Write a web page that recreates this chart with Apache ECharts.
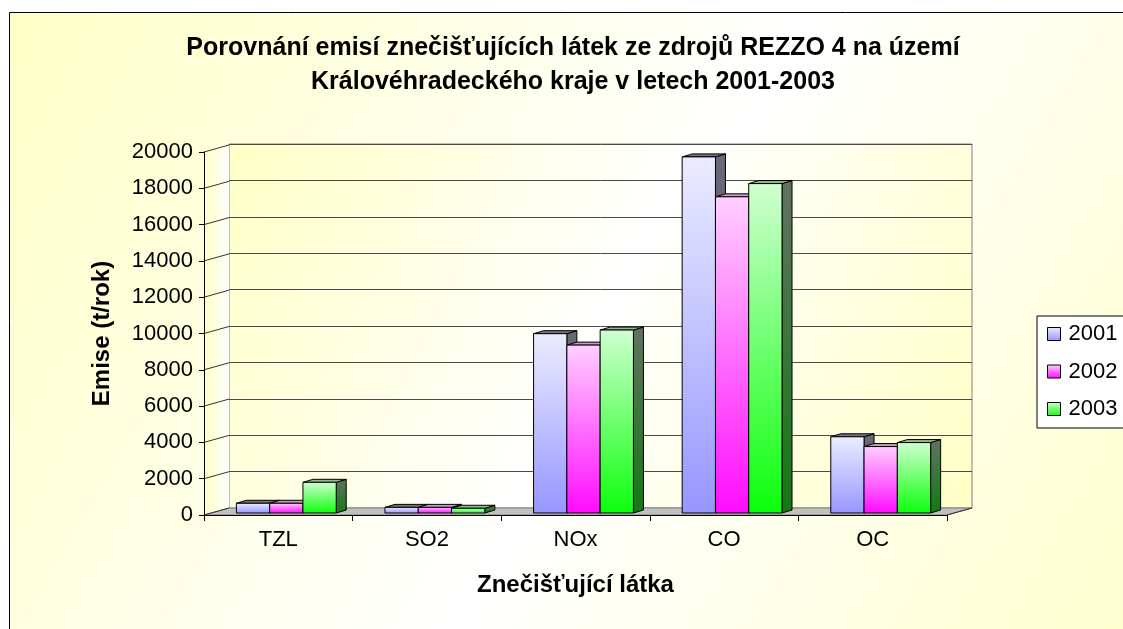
<!DOCTYPE html>
<html>
<head>
<meta charset="utf-8">
<title>Emise REZZO 4</title>
<script src="https://cdn.jsdelivr.net/npm/echarts@6/dist/echarts.min.js"></script>
<style>
  html, body { margin: 0; background: #fff; }
  #chart { width: 1123px; height: 629px; }
</style>
</head>
<body>
<div id="chart"></div>
<script>
// data
const categories = ['TZL', 'SO2', 'NOx', 'CO', 'OC']
const years = ['2001', '2002', '2003']
const emise2001 = [535, 310, 9880, 19620, 4200]
const emise2002 = [535, 310, 9250, 17420, 3660]
const emise2003 = [1690, 260, 10080, 18150, 3880]
const yTicks = [0, 2000, 4000, 6000, 8000, 10000, 12000, 14000, 16000, 18000, 20000]

const Y_MAX = 20000
const Y_STEP = 2000
const DEPTH = [25, -7]        // floor / wall depth (px)
const BAR_SHIFT = [8, -2]     // bars sit in the middle of the depth
const BAR_DEPTH = [10, -3]
const BAR_RATIO = 0.224       // one bar as part of a category band
const FONT = 'Liberation Sans'

const vGrad = (a, b) => ({
  type: 'linear', x: 0, y: 0, x2: 0, y2: 1,
  colorStops: [{ offset: 0, color: a }, { offset: 1, color: b }]
})
const diagGrad = () => ({
  type: 'linear', x: 0, y: 0, x2: 1, y2: 1,
  colorStops: [
    { offset: 0, color: '#ffffc6' },
    { offset: 0.5, color: '#ffffff' },
    { offset: 1, color: '#ffffc6' }
  ]
})

const barStyles = [
  { front: ['#ececff', '#9696ff'], top: '#74747e', side: ['#6a6a76', '#46466e'] },
  { front: ['#ffd0ff', '#ff0cff'], top: '#c898c8', side: ['#8a6a8a', '#8a0a8a'] },
  { front: ['#d0ffd0', '#0cff0c'], top: '#92b892', side: ['#627262', '#127a12'] }
]

// side wall, floor and the slanted tick lines
function renderFrame (params, api) {
  const cs = params.coordSys
  const x0 = cs.x
  const x1 = cs.x + cs.width
  const yb = api.coord([0, 0])[1]
  const yt = api.coord([0, Y_MAX])[1]
  const [dx, dy] = DEPTH
  const children = [
    {
      type: 'polygon',
      shape: { points: [[x0, yt], [x0 + dx, yt + dy], [x0 + dx, yb + dy], [x0, yb]] },
      style: {
        fill: {
          type: 'linear', x: 0, y: 0, x2: 1, y2: 0,
          colorStops: [{ offset: 0, color: '#ffffc4' }, { offset: 1, color: '#ffffff' }]
        }
      }
    },
    {
      type: 'polygon',
      shape: { points: [[x0, yb], [x0 + dx, yb + dy], [x1 + dx, yb + dy], [x1, yb]] },
      style: { fill: '#c0c0c0', stroke: '#808080', lineWidth: 1 }
    },
    {
      type: 'line',
      shape: { x1: x1, y1: yb, x2: x1 + dx, y2: yb + dy },
      style: { stroke: '#333', lineWidth: 1 }
    }
  ]
  yTicks.forEach(v => {
    const y = api.coord([0, v])[1]
    children.push({
      type: 'line',
      shape: { x1: x0, y1: y, x2: x0 + dx, y2: y + dy },
      style: { stroke: '#333', lineWidth: 1 }
    })
  })
  return { type: 'group', children }
}

// 3D looking column: front face, top, right side
function barRenderer (k) {
  const st = barStyles[k]
  return function (params, api) {
    const i = api.value(0)
    const v = api.value(1)
    const base = api.coord([i, 0])
    const top = api.coord([i, v])
    const w = api.size([1, 0])[0] * BAR_RATIO
    const x = base[0] - w * 1.5 + k * w + BAR_SHIFT[0]
    const y0 = base[1] + BAR_SHIFT[1]
    const y1 = top[1] + BAR_SHIFT[1]
    const [dx, dy] = BAR_DEPTH
    const line = { stroke: '#000', lineWidth: 1, lineJoin: 'round' }
    return {
      type: 'group',
      children: [
        {
          type: 'polygon',
          shape: { points: [[x + w, y1], [x + w + dx, y1 + dy], [x + w + dx, y0 + dy], [x + w, y0]] },
          style: Object.assign({ fill: vGrad(st.side[0], st.side[1]) }, line)
        },
        {
          type: 'polygon',
          shape: { points: [[x, y1], [x + dx, y1 + dy], [x + w + dx, y1 + dy], [x + w, y1]] },
          style: Object.assign({ fill: st.top }, line)
        },
        {
          type: 'rect',
          shape: { x: x, y: y1, width: w, height: y0 - y1 },
          style: Object.assign({ fill: vGrad(st.front[0], st.front[1]) }, line)
        }
      ]
    }
  }
}

const seriesData = [emise2001, emise2002, emise2003]

const chart = echarts.init(document.getElementById('chart'), null, { renderer: 'canvas' })

chart.setOption({
  animation: false,
  backgroundColor: '#fff',
  textStyle: { fontFamily: FONT },
  graphic: [{
    type: 'rect',
    z: -10,
    silent: true,
    shape: { x: 9.5, y: 12.5, width: 1200, height: 700 },
    style: { fill: diagGrad(), stroke: '#000', lineWidth: 1 }
  }],
  title: {
    text: 'Porovnání emisí znečišťujících látek ze zdrojů REZZO 4 na území\nKrálovéhradeckého kraje v letech 2001-2003',
    left: 573,
    top: 31,
    padding: 0,
    textAlign: 'center',
    textStyle: { fontFamily: FONT, fontSize: 25, fontWeight: 'bold', lineHeight: 34, color: '#000' }
  },
  legend: {
    orient: 'vertical',
    left: 1037,
    top: 316,
    padding: [7, 8, 8, 10],
    itemWidth: 13,
    itemHeight: 13,
    itemGap: 15.5,
    icon: 'rect',
    backgroundColor: '#fff',
    borderColor: '#000',
    borderWidth: 1,
    borderRadius: 0,
    itemStyle: { borderColor: '#000', borderWidth: 1 },
    textStyle: { fontFamily: FONT, fontSize: 22, color: '#000', padding: [0, 0, 0, 3] },
    data: years
  },
  grid: [
    { left: 204, top: 152, right: 176, bottom: 114, outerBoundsMode: 'none' },
    {
      left: 229, top: 144, right: 151, bottom: 121, outerBoundsMode: 'none',
      show: true, backgroundColor: diagGrad(), borderColor: '#808080', borderWidth: 1
    }
  ],
  xAxis: [
    {
      type: 'category',
      gridIndex: 0,
      data: categories,
      z: 5,
      name: 'Znečišťující látka',
      nameLocation: 'middle',
      nameGap: 58,
      nameMoveOverlap: false,
      nameTextStyle: { fontFamily: FONT, fontSize: 24, fontWeight: 'bold', color: '#000' },
      axisLine: { lineStyle: { color: '#000', width: 1 } },
      axisTick: { show: true, length: 6, lineStyle: { color: '#000' } },
      axisLabel: { margin: 14, fontFamily: FONT, fontSize: 22, color: '#000' },
      splitLine: { show: false }
    },
    {
      type: 'category',
      gridIndex: 1,
      data: categories,
      show: false
    }
  ],
  yAxis: [
    {
      type: 'value',
      gridIndex: 0,
      min: 0,
      max: Y_MAX,
      interval: Y_STEP,
      z: 5,
      name: 'Emise (t/rok)',
      nameLocation: 'middle',
      nameRotate: 90,
      nameGap: 90,
      nameMoveOverlap: false,
      nameTextStyle: { fontFamily: FONT, fontSize: 24, fontWeight: 'bold', color: '#000' },
      axisLine: { show: true, lineStyle: { color: '#000', width: 1 } },
      axisTick: { show: true, length: 5, lineStyle: { color: '#000' } },
      axisLabel: {
        margin: 11,
        fontFamily: FONT,
        fontSize: 22,
        color: '#000',
        formatter: v => String(v)
      },
      splitLine: { show: false }
    },
    {
      type: 'value',
      gridIndex: 1,
      min: 0,
      max: Y_MAX,
      interval: Y_STEP,
      axisLine: { show: false },
      axisTick: { show: false },
      axisLabel: { show: false },
      splitLine: { show: true, lineStyle: { color: '#4a4a4a', width: 1 } }
    }
  ],
  series: [
    {
      type: 'custom',
      name: 'frame',
      xAxisIndex: 0,
      yAxisIndex: 0,
      z: 1,
      silent: true,
      renderItem: renderFrame,
      data: [[0, 0]]
    }
  ].concat(years.map((year, k) => ({
    type: 'custom',
    name: year,
    xAxisIndex: 0,
    yAxisIndex: 0,
    z: 3,
    encode: { x: 0, y: 1 },
    itemStyle: {
      color: vGrad(barStyles[k].front[0], barStyles[k].front[1]),
      borderColor: '#000',
      borderWidth: 1
    },
    renderItem: barRenderer(k),
    data: seriesData[k].map((v, i) => [i, v])
  })))
})
</script>
</body>
</html>
